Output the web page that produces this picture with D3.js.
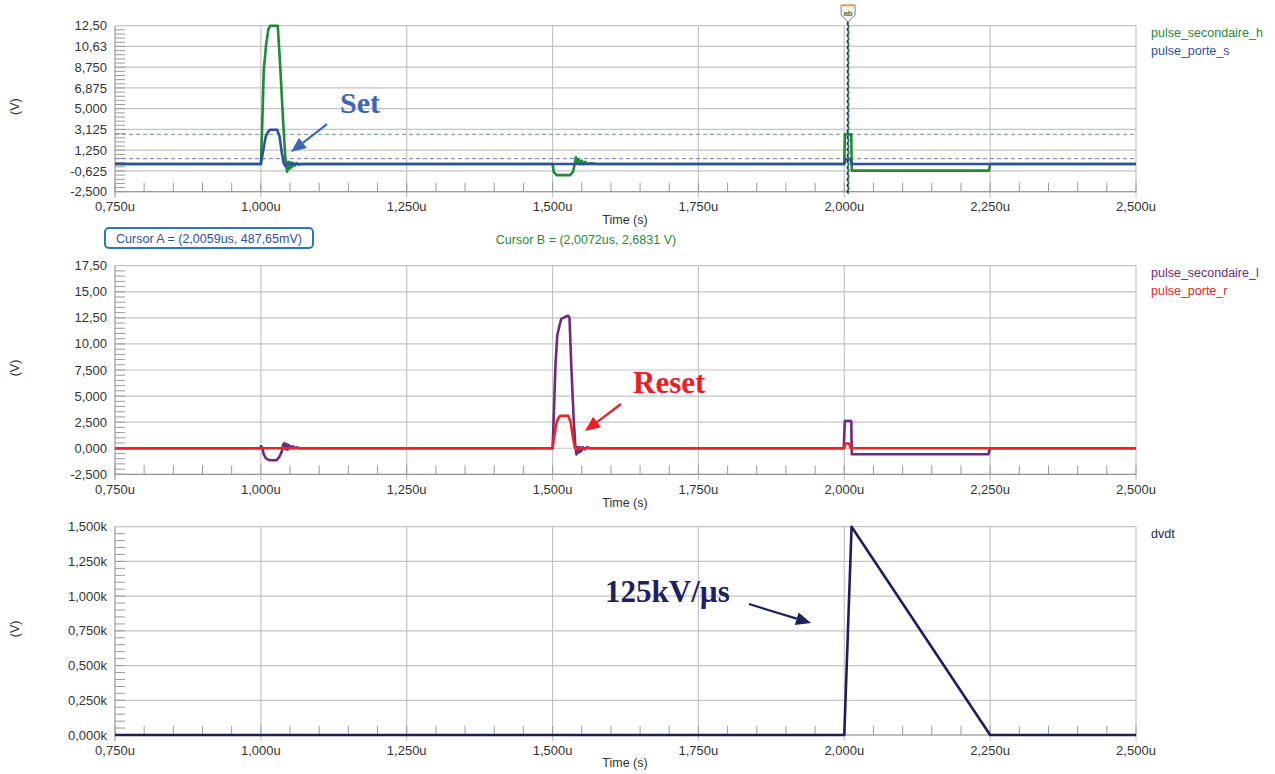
<!DOCTYPE html>
<html><head><meta charset="utf-8">
<script src="https://cdn.jsdelivr.net/npm/d3@7"></script>
<style>
body{margin:0;background:#fff}
svg{display:block}
text{font-family:"Liberation Sans",Arial,sans-serif}
text.anno{font-family:"Liberation Serif","Times New Roman",serif;font-weight:bold}
</style>
</head><body>
<svg id="c" width="1275" height="774"></svg>
<script>
// ---------- Axis ticks ----------
const xTicks = [0.75, 1.0, 1.25, 1.5, 1.75, 2.0, 2.25, 2.5];
const xTickLabels = ["0,750u","1,000u","1,250u","1,500u","1,750u","2,000u","2,250u","2,500u"];

const yTicksTop = [-2.5, -0.625, 1.25, 3.125, 5.0, 6.875, 8.75, 10.625, 12.5];
const yLabelsTop = ["-2,500","-0,625","1,250","3,125","5,000","6,875","8,750","10,63","12,50"];
const yTicksMid = [-2.5, 0, 2.5, 5, 7.5, 10, 12.5, 15, 17.5];
const yLabelsMid = ["-2,500","0,000","2,500","5,000","7,500","10,00","12,50","15,00","17,50"];
const yTicksBot = [0, 250, 500, 750, 1000, 1250, 1500];
const yLabelsBot = ["0,000k","0,250k","0,500k","0,750k","1,000k","1,250k","1,500k"];

// ---------- Series (time in us, values in V) ----------
// pulse_secondaire_h (green)
const tSecH = [0.75,1.0,1.002,1.005,1.009,1.013,1.016,1.029,1.033,1.038,1.042,1.045,1.047,1.049,1.051,1.053,1.055,1.058,1.061,1.065,1.07,1.08,
  1.5,1.502,1.507,1.53,1.535,1.538,1.540,1.542,1.544,1.547,1.550,1.553,1.556,1.560,1.565,1.575,
  2.0,2.001,2.012,2.0128,2.248,2.250,2.5];
const vSecH = [0,0,3,8.5,10.8,12.2,12.5,12.5,9,4,0.5,-0.7,0.2,-0.45,0.15,-0.3,0.1,-0.15,0.08,-0.05,0,0,
  0,-0.7,-1.0,-1.0,-0.7,0,0.6,0.1,0.45,0,0.3,0,0.2,0,0.08,0,
  0,2.68,2.68,-0.6,-0.6,0,0];
// pulse_porte_s (blue)
const tPorteS = [0.75,1.0,1.004,1.008,1.012,1.016,1.028,1.032,1.036,1.039,1.042,1.045,2.0,2.002,2.010,2.013,2.5];
const vPorteS = [0,0,1.2,2.4,2.9,3.1,3.1,2.5,1.0,0.1,-0.2,0,0,0.45,0.45,0,0];
// pulse_secondaire_l (purple)
const tSecL = [0.75,0.999,1.0,1.002,1.005,1.009,1.015,1.027,1.032,1.036,1.038,1.040,1.042,1.044,1.046,1.048,1.051,1.054,1.057,1.061,1.066,1.075,
  1.5,1.502,1.505,1.508,1.512,1.515,1.522,1.527,1.529,1.532,1.536,1.539,1.541,1.543,1.545,1.547,1.549,1.552,1.555,1.559,1.565,1.575,
  1.999,2.001,2.006,2.012,2.0128,2.247,2.250,2.5];
const vSecL = [0,0,0.2,0.1,-0.6,-1.0,-1.15,-1.15,-0.8,-0.3,0.3,0.5,-0.1,0.4,-0.15,0.3,0,0.2,0,0.1,0,0,
  0,3,8,10.8,11.8,12.4,12.6,12.7,12.5,8,3,0.2,-0.6,0.1,-0.4,0.1,-0.3,0.1,-0.1,0.1,0,0,
  0,2.6,2.64,2.6,-0.58,-0.58,0,0];
// pulse_porte_r (red)
const tPorteR = [0.75,1.5,1.503,1.507,1.511,1.513,1.527,1.531,1.535,1.538,1.541,1.545,2.0,2.002,2.008,2.011,2.5];
const vPorteR = [0,0,1.2,2.5,3.0,3.1,3.1,2.5,1.0,0.1,-0.1,0,0,0.45,0.45,0,0];
// dvdt (navy)
const tDvdt = [0.75,2.0,2.0125,2.25,2.5];
const vDvdt = [0,0,1500,0,0];

// Cursors
const cursorA = {t:2.0059, v:0.48765};
const cursorB = {t:2.0072, v:2.6831};

const colGreen = "#1f8a3a", colBlue = "#2f4fa3", colPurple = "#6e2a80", colRed = "#ee2424", colNavy = "#1e1e5c";

const svg = d3.select("#c");
const x = d3.scaleLinear().domain([0.75, 2.5]).range([115, 1136]);

const panels = [
  {y: d3.scaleLinear().domain([-2.5, 12.5]).range([191.7, 25.7]), ticks: yTicksTop, labels: yLabelsTop,
   series: [{t:tSecH, v:vSecH, c:colGreen}, {t:tPorteS, v:vPorteS, c:colBlue}],
   legend: [["pulse_secondaire_h", colGreen], ["pulse_porte_s", colBlue]]},
  {y: d3.scaleLinear().domain([-2.5, 17.5]).range([474.3, 265.7]), ticks: yTicksMid, labels: yLabelsMid,
   series: [{t:tSecL, v:vSecL, c:colPurple}, {t:tPorteR, v:vPorteR, c:colRed}],
   legend: [["pulse_secondaire_l", colPurple], ["pulse_porte_r", colRed]]},
  {y: d3.scaleLinear().domain([0, 1500]).range([735, 526.7]), ticks: yTicksBot, labels: yLabelsBot,
   series: [{t:tDvdt, v:vDvdt, c:colNavy}],
   legend: [["dvdt", colNavy]]}
];

const gridCol = "#c4c4c4", axisCol = "#9a9a9a", txtCol = "#333";

panels.forEach((p, pi) => {
  const g = svg.append("g");
  const [y0, y1] = p.y.range();   // bottom, top
  p.ticks.forEach(v => {
    g.append("line").attr("x1", x(0.75)).attr("x2", x(2.5)).attr("y1", p.y(v)).attr("y2", p.y(v))
      .attr("stroke", gridCol).attr("stroke-width", 1.2);
  });
  xTicks.forEach(t => {
    g.append("line").attr("x1", x(t)).attr("x2", x(t)).attr("y1", y1).attr("y2", y0 + 6)
      .attr("stroke", t === 0.75 ? axisCol : gridCol).attr("stroke-width", 1.2);
  });
  g.append("line").attr("x1", x(0.75)).attr("x2", x(2.5)).attr("y1", y0).attr("y2", y0)
    .attr("stroke", axisCol).attr("stroke-width", 1.2);
  d3.range(0.75, 2.5001, 0.05).forEach(t => {
    g.append("line").attr("x1", x(t)).attr("x2", x(t)).attr("y1", y0).attr("y2", y0 - 9)
      .attr("stroke", axisCol).attr("stroke-width", 1);
  });
  const step = (p.ticks[1] - p.ticks[0]) / 5;
  for (let i = 0; i < (p.ticks.length - 1) * 5; i++) {
    const v = p.ticks[0] + i * step;
    g.append("line").attr("x1", x(0.75)).attr("x2", x(0.75) + 10).attr("y1", p.y(v)).attr("y2", p.y(v))
      .attr("stroke", axisCol).attr("stroke-width", 1);
  }
  p.ticks.forEach((v, i) => {
    g.append("text").attr("x", 107).attr("y", p.y(v)).attr("dy", "0.35em").attr("text-anchor", "end")
      .attr("font-size", 13).attr("fill", txtCol).text(p.labels[i]);
  });
  xTicks.forEach((t, i) => {
    g.append("text").attr("x", x(t)).attr("y", y0 + 15).attr("dy", "0.35em").attr("text-anchor", "middle")
      .attr("font-size", 13).attr("fill", txtCol).text(xTickLabels[i]);
  });
  g.append("text").attr("x", 625).attr("y", y0 + 28).attr("dy", "0.35em").attr("text-anchor", "middle")
    .attr("font-size", 12.5).attr("fill", txtCol).text("Time (s)");
  g.append("text").attr("transform", `translate(15,${(y0 + y1) / 2 - 2}) rotate(-90)`).attr("dy", "0.35em")
    .attr("text-anchor", "middle").attr("font-size", 12.5).attr("fill", txtCol).text("(V)");
  p.legend.forEach((l, i) => {
    g.append("text").attr("x", 1151).attr("y", y1 + 7 + i * 18).attr("dy", "0.35em")
      .attr("font-size", 12.5).attr("fill", l[1]).text(l[0]);
  });
  p.g = g;
});

const pt = panels[0];
pt.g.append("line").attr("x1", x(0.75)).attr("x2", x(2.5)).attr("y1", pt.y(cursorB.v)).attr("y2", pt.y(cursorB.v))
  .attr("stroke", "#5aa860").attr("stroke-width", 1).attr("stroke-dasharray", "4,3");
pt.g.append("line").attr("x1", x(0.75)).attr("x2", x(2.5)).attr("y1", pt.y(cursorA.v)).attr("y2", pt.y(cursorA.v))
  .attr("stroke", "#6a7fd0").attr("stroke-width", 1).attr("stroke-dasharray", "4,3");

panels.forEach(p => {
  p.series.forEach(s => {
    const pts = s.t.map((t, i) => [t, s.v[i]]);
    p.g.append("path").datum(pts)
      .attr("d", d3.line().x(d => x(d[0])).y(d => p.y(d[1])))
      .attr("fill", "none").attr("stroke", s.c).attr("stroke-width", 2.6)
      .attr("stroke-linejoin", "round");
  });
});

const cy1 = 22, cy0 = pt.y(-2.5) + 2;
pt.g.append("line").attr("x1", x(cursorA.t)).attr("x2", x(cursorA.t)).attr("y1", cy1).attr("y2", cy0)
  .attr("stroke", "#24306e").attr("stroke-width", 2).attr("stroke-dasharray", "3,3");
pt.g.append("line").attr("x1", x(cursorB.t)).attr("x2", x(cursorB.t)).attr("y1", cy1).attr("y2", cy0)
  .attr("stroke", colGreen).attr("stroke-width", 2).attr("stroke-dasharray", "3,3").attr("stroke-dashoffset", 3);
const mx = (x(cursorA.t) + x(cursorB.t)) / 2;
pt.g.append("path").attr("d", `M${mx-7},5 L${mx+7},5 L${mx+7},15 L${mx},22 L${mx-7},15 Z`)
  .attr("fill", "#f3f3ee").attr("stroke", "#7c8494").attr("stroke-width", 1);
pt.g.append("line").attr("x1", mx - 6).attr("x2", mx + 6).attr("y1", 5.5).attr("y2", 5.5).attr("stroke", "#f0a040").attr("stroke-width", 1.5);
pt.g.append("text").attr("x", mx).attr("y", 13).attr("dy", "0.35em").attr("text-anchor", "middle")
  .attr("font-size", 8).attr("font-weight", "bold").attr("fill", "#4a7a3a").text("ab");

svg.append("rect").attr("x", 105).attr("y", 228).attr("width", 208).attr("height", 20).attr("rx", 4)
  .attr("fill", "#fff").attr("stroke", "#2a78c4").attr("stroke-width", 2);
svg.append("text").attr("x", 209).attr("y", 238.5).attr("dy", "0.35em").attr("text-anchor", "middle")
  .attr("font-size", 12.5).attr("fill", colBlue).text("Cursor A = (2,0059us, 487,65mV)");
svg.append("text").attr("x", 586).attr("y", 240).attr("dy", "0.35em").attr("text-anchor", "middle")
  .attr("font-size", 12.5).attr("fill", colGreen).text("Cursor B = (2,0072us, 2,6831 V)");

const annotations = [
  {p:0, text:"Set", tx:1.1357, ty:4.61, fs:30, col:"#3d66b5", from:[1.1134, 3.61], to:[1.0517, 1.09]},
  {p:1, text:"Reset", tx:1.6379, ty:5.3, fs:31, col:"#ee1c24", from:[1.6173, 4.24], to:[1.5556, 1.65]},
  {p:2, text:"125kV/\u00b5s", tx:1.590, ty:958, fs:31, col:"#1f2060", from:[1.8367, 943], to:[1.943, 806]}
];
annotations.forEach(a => {
  const p = panels[a.p];
  p.g.append("text").attr("class", "anno").attr("x", x(a.tx)).attr("y", p.y(a.ty))
    .attr("font-size", a.fs).attr("fill", a.col).text(a.text);
  const x0 = x(a.from[0]), y0 = p.y(a.from[1]), x1 = x(a.to[0]), y1 = p.y(a.to[1]);
  const ang = Math.atan2(y1 - y0, x1 - x0);
  const hl = 15, hw = 6.5;
  const bx = x1 - hl * Math.cos(ang), by = y1 - hl * Math.sin(ang);
  p.g.append("line").attr("x1", x0).attr("y1", y0).attr("x2", bx).attr("y2", by)
    .attr("stroke", a.col).attr("stroke-width", 2.2);
  p.g.append("path").attr("d",
    `M${x1},${y1} L${bx + hw * Math.sin(ang)},${by - hw * Math.cos(ang)} L${bx - hw * Math.sin(ang)},${by + hw * Math.cos(ang)} Z`)
    .attr("fill", a.col);
});
</script>
</body></html>
